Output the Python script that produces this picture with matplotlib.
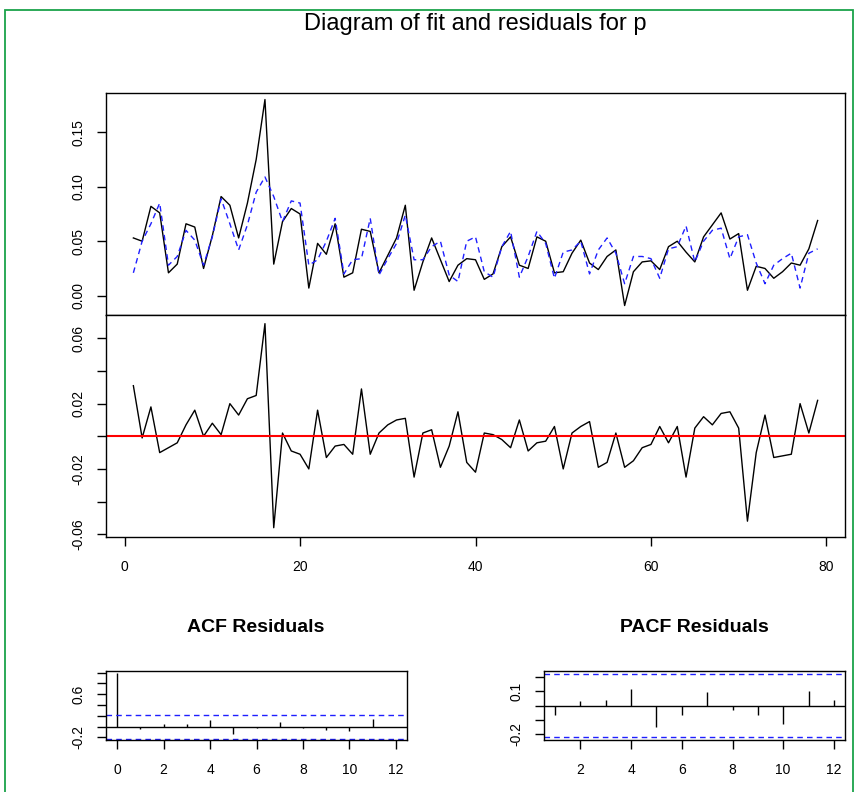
import matplotlib
matplotlib.use("Agg")
import matplotlib.pyplot as plt
import numpy as np
from matplotlib.patches import Rectangle

# ---------------- data ----------------
t = list(range(1, 80))
actual = [0.053, 0.050, 0.082, 0.076, 0.021, 0.029, 0.066, 0.063, 0.025, 0.055,
          0.091, 0.083, 0.053, 0.085, 0.125, 0.180, 0.029, 0.068, 0.080, 0.075,
          0.007, 0.048, 0.038, 0.066, 0.017, 0.021, 0.061, 0.059, 0.021, 0.037,
          0.053, 0.083, 0.005, 0.031, 0.053, 0.033, 0.013, 0.028, 0.034, 0.033,
          0.015, 0.020, 0.045, 0.054, 0.028, 0.025, 0.054, 0.050, 0.021, 0.022,
          0.039, 0.051, 0.030, 0.024, 0.036, 0.042, -0.009, 0.022, 0.031, 0.032,
          0.024, 0.045, 0.050, 0.040, 0.031, 0.054, 0.065, 0.076, 0.052, 0.057,
          0.005, 0.027, 0.025, 0.016, 0.022, 0.030, 0.028, 0.043, 0.069]
fitted = [0.021, 0.050, 0.066, 0.085, 0.028, 0.036, 0.060, 0.051, 0.028, 0.054,
          0.089, 0.066, 0.042, 0.065, 0.095, 0.109, 0.091, 0.068, 0.087, 0.085,
          0.028, 0.033, 0.050, 0.071, 0.020, 0.033, 0.034, 0.071, 0.019, 0.034,
          0.048, 0.074, 0.033, 0.033, 0.045, 0.050, 0.019, 0.013, 0.050, 0.054,
          0.022, 0.017, 0.045, 0.059, 0.017, 0.036, 0.059, 0.048, 0.016, 0.040,
          0.042, 0.050, 0.020, 0.042, 0.053, 0.039, 0.011, 0.036, 0.036, 0.034,
          0.016, 0.043, 0.045, 0.064, 0.031, 0.050, 0.060, 0.062, 0.034, 0.054,
          0.056, 0.030, 0.011, 0.028, 0.034, 0.039, 0.007, 0.039, 0.043]
residuals = [0.031, -0.001, 0.018, -0.010, -0.007, -0.004, 0.007, 0.016, 0.000, 0.008,
             0.001, 0.020, 0.013, 0.023, 0.025, 0.069, -0.056, 0.002, -0.009, -0.011,
             -0.020, 0.016, -0.013, -0.006, -0.005, -0.011, 0.029, -0.011, 0.002, 0.007,
             0.010, 0.011, -0.025, 0.002, 0.004, -0.019, -0.006, 0.015, -0.016, -0.022,
             0.002, 0.001, -0.002, -0.007, 0.010, -0.009, -0.004, -0.003, 0.006, -0.020,
             0.002, 0.006, 0.009, -0.019, -0.016, 0.002, -0.019, -0.015, -0.007, -0.005,
             0.006, -0.004, 0.006, -0.025, 0.005, 0.012, 0.007, 0.014, 0.015, 0.005,
             -0.052, -0.010, 0.013, -0.013, -0.012, -0.011, 0.020, 0.002, 0.022]

acf_lags = list(range(0, 13))
acf_vals = [1.0, -0.05, 0.04, 0.04, 0.12, -0.14, -0.03, 0.09, -0.03, -0.06, -0.08, 0.15, -0.01]
pacf_lags = list(range(1, 13))
pacf_vals = [-0.064, 0.032, 0.039, 0.113, -0.149, -0.064, 0.092, -0.034, -0.064, -0.126, 0.101, 0.039]
conf = 0.2205

title = "Diagram of fit and residuals for p"
acf_title = "ACF Residuals"
pacf_title = "PACF Residuals"

# ---------------- figure ----------------
W, H = 857, 792
fig = plt.figure(figsize=(W / 100, H / 100), dpi=100)
plt.rcParams['font.family'] = ['Liberation Sans', 'DejaVu Sans']


def fx(px):
    return px / W


def fy(py):
    return 1 - py / H


def box(x0, y0, x1, y1):
    return [fx(x0), fy(y1), fx(x1) - fx(x0), fy(y0) - fy(y1)]


def style(ax):
    for s in ax.spines.values():
        s.set_linewidth(1.0)
        s.set_color('black')
    ax.tick_params(direction='out', length=6.5, width=1.0, labelsize=10, colors='black')
    ax.tick_params(axis='y', pad=8)
    ax.tick_params(axis='x', pad=10)


# green frame
fig.add_artist(Rectangle((fx(5), fy(H + 5)), fx(853) - fx(5), fy(10) - fy(H + 5),
                         transform=fig.transFigure, fill=False, edgecolor='#1aa34a', lw=1.3))

fig.text(fx(475), fy(24), title, ha='center', va='center', fontsize=17,
         family=['Liberation Sans Narrow', 'Liberation Sans', 'DejaVu Sans'])

# top panel: fit
ax1 = fig.add_axes(box(106, 93, 845, 315))
ax1.plot(t, actual, color='black', lw=1.0)
ax1.plot(t, fitted, color='#1f1fff', lw=1.0, dashes=(4, 3))
ax1.set_xlim(-2.12, 82.12)
ax1.set_ylim(-0.0177, 0.186)
ax1.set_xticks([])
yt = [0.00, 0.05, 0.10, 0.15]
ax1.set_yticks(yt)
ax1.set_yticklabels([f"{v:.2f}" for v in yt], rotation=90, va='center')
style(ax1)

# residual panel
ax2 = fig.add_axes(box(106, 315, 845, 537))
ax2.plot(t, residuals, color='black', lw=1.0)
ax2.axhline(0, color='red', lw=1.5)
ax2.set_xlim(-2.12, 82.12)
ax2.set_ylim(-0.0617, 0.0743)
rt = [-0.06, -0.04, -0.02, 0.0, 0.02, 0.04, 0.06]
ax2.set_yticks(rt)
ax2.set_yticklabels(["-0.06", "", "-0.02", "", "0.02", "", "0.06"], rotation=90, va='center')
ax2.set_xticks([0, 20, 40, 60, 80])
style(ax2)

# ACF panel
ax3 = fig.add_axes(box(106, 671, 407, 740))
ax3.vlines(acf_lags, 0, acf_vals, color='black', lw=1.0)
ax3.axhline(0, color='black', lw=1.0)
ax3.axhline(conf, color='#1f1fff', lw=1.0, dashes=(4, 3))
ax3.axhline(-conf, color='#1f1fff', lw=1.0, dashes=(4, 3))
ax3.set_xlim(-0.48, 12.48)
ax3.set_ylim(-0.247, 1.03)
ax3.set_xticks(range(0, 13, 2))
at = [-0.2, 0.0, 0.2, 0.4, 0.6, 0.8, 1.0]
ax3.set_yticks(at)
ax3.set_yticklabels(["-0.2", "", "", "", "0.6", "", ""], rotation=90, va='center')
style(ax3)
fig.text(fx(256), fy(627), acf_title, ha='center', va='center', fontsize=14, fontweight='bold')

# PACF panel
ax4 = fig.add_axes(box(544, 671, 845, 740))
ax4.vlines(pacf_lags, 0, pacf_vals, color='black', lw=1.0)
ax4.axhline(0, color='black', lw=1.0)
ax4.axhline(conf, color='#1f1fff', lw=1.0, dashes=(4, 3))
ax4.axhline(-conf, color='#1f1fff', lw=1.0, dashes=(4, 3))
ax4.set_xlim(0.56, 12.44)
ax4.set_ylim(-0.238, 0.238)
ax4.set_xticks(range(2, 13, 2))
pt = [-0.2, -0.1, 0.0, 0.1, 0.2]
ax4.set_yticks(pt)
ax4.set_yticklabels(["-0.2", "", "", "0.1", ""], rotation=90, va='center')
style(ax4)
fig.text(fx(694), fy(627), pacf_title, ha='center', va='center', fontsize=14, fontweight='bold')

fig.savefig("out.png", dpi=100)
